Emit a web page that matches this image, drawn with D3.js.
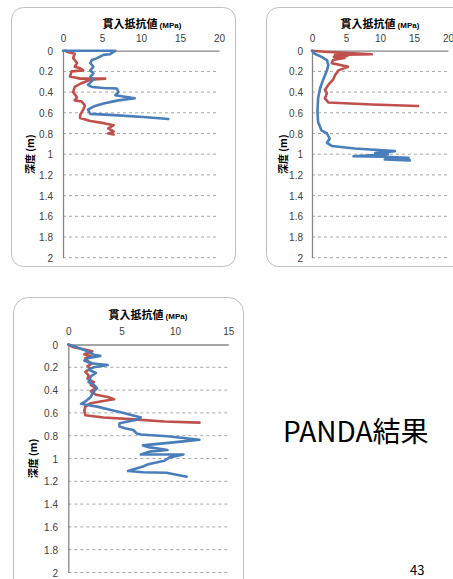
<!DOCTYPE html>
<html><head><meta charset="utf-8">
<script src="https://cdn.jsdelivr.net/npm/d3@7"></script>
<style>body{margin:0;background:#fff}svg{display:block}</style>
</head><body>
<svg id="c" width="453" height="579"></svg>
<script>
// ---- data ----
const xTicks20 = [0, 5, 10, 15, 20];
const xTicks15 = [0, 5, 10, 15];
const depthTicks = [0, 0.2, 0.4, 0.6, 0.8, 1, 1.2, 1.4, 1.6, 1.8, 2];
const xTitle = "貫入抵抗値";
const xUnit = "(MPa)";
const yTitle = "深度 (m)";

const c1BlueMPa   = [0, 6.7, 6.0, 5.2, 4.3, 3.7, 3.5, 3.9, 3.5, 3.9, 3.5, 3.9, 3.2, 3.7, 5.2, 6.9, 7.1, 6.7, 9.2, 7.1, 5.2, 3.9, 3.2, 3.5, 6.0, 10.3, 13.5];
const c1BlueDepth = [0, 0, 0.035, 0.04, 0.074, 0.09, 0.12, 0.155, 0.19, 0.22, 0.25, 0.28, 0.33, 0.35, 0.36, 0.365, 0.40, 0.43, 0.46, 0.48, 0.51, 0.54, 0.57, 0.61, 0.62, 0.64, 0.66];
const c1RedMPa    = [0.3, 0.5, 1.5, 1.3, 1.8, 1.5, 2.2, 2.6, 1.1, 0.9, 2.2, 5.4, 3.5, 2.2, 1.5, 1.3, 1.8, 1.5, 2.4, 2.8, 2.6, 2.2, 2.2, 3.5, 5.2, 6.5, 5.8, 6.5, 5.8, 6.5];
const c1RedDepth  = [0, 0.01, 0.03, 0.07, 0.12, 0.155, 0.17, 0.19, 0.2, 0.25, 0.27, 0.27, 0.28, 0.32, 0.35, 0.40, 0.45, 0.48, 0.49, 0.53, 0.57, 0.62, 0.65, 0.68, 0.70, 0.72, 0.75, 0.78, 0.80, 0.81];

const c2BlueMPa   = [0, 0.4, 1.4, 2.2, 2.4, 2.2, 1.7, 1.2, 0.9, 0.8, 0.9, 1.4, 2.2, 2.6, 2.2, 2.9, 6.3, 12.2, 9.3, 11.2, 6.1, 10.7, 14.2, 10.7, 14.4];
const c2BlueDepth = [0, 0.03, 0.06, 0.09, 0.14, 0.19, 0.27, 0.36, 0.46, 0.59, 0.69, 0.77, 0.80, 0.85, 0.89, 0.92, 0.945, 0.97, 0.99, 1.0, 1.02, 1.025, 1.035, 1.05, 1.06];
const c2RedMPa    = [0, 1.9, 8.8, 3.4, 5.2, 3.2, 4.8, 3.1, 2.9, 5.3, 3.9, 3.4, 3.1, 2.4, 1.9, 2.2, 1.9, 2.4, 8.8, 15.6];
const c2RedDepth  = [0, 0.01, 0.035, 0.04, 0.05, 0.06, 0.07, 0.09, 0.12, 0.155, 0.19, 0.235, 0.28, 0.33, 0.38, 0.41, 0.46, 0.50, 0.52, 0.535];

const c3BlueMPa   = [0, 0.84, 1.8, 2.4, 3.0, 1.8, 1.5, 2.1, 3.7, 2.4, 1.9, 2.6, 2.1, 1.9, 2.4, 2.7, 2.4, 2.1, 1.6, 1.2, 1.8, 2.7, 4.0, 5.2, 6.8, 6.4, 4.8, 4.8, 5.3, 6.1, 6.4, 6.8, 9.3, 12.3, 10.8, 7.0, 7.5, 9.3, 7.6, 6.8, 10.8, 9.5, 9.0, 7.5, 7.0, 5.6, 7.0, 9.2, 11.1];
const c3BlueDepth = [0, 0.025, 0.06, 0.09, 0.1, 0.12, 0.14, 0.165, 0.18, 0.2, 0.22, 0.25, 0.28, 0.33, 0.355, 0.385, 0.41, 0.46, 0.50, 0.52, 0.53, 0.545, 0.575, 0.60, 0.64, 0.66, 0.69, 0.72, 0.735, 0.75, 0.78, 0.79, 0.805, 0.835, 0.85, 0.885, 0.9, 0.925, 0.94, 0.965, 0.965, 0.99, 1.02, 1.05, 1.07, 1.11, 1.12, 1.125, 1.16];
const c3RedMPa    = [0, 0.5, 1.3, 2.25, 1.5, 2.1, 1.6, 1.9, 2.25, 1.8, 2.1, 1.6, 1.9, 1.8, 2.4, 2.1, 2.6, 2.1, 2.6, 3.7, 4.3, 3.0, 2.1, 1.6, 1.5, 1.6, 3.3, 5.8, 9.0, 12.3];
const c3RedDepth  = [0, 0.025, 0.04, 0.06, 0.085, 0.10, 0.12, 0.15, 0.165, 0.19, 0.21, 0.24, 0.27, 0.30, 0.33, 0.355, 0.385, 0.41, 0.44, 0.46, 0.48, 0.50, 0.515, 0.545, 0.58, 0.62, 0.64, 0.655, 0.675, 0.685];

const caption = "PANDA結果";
const pageNo = "43";

// ---- drawing ----
const svg = d3.select("#c");
const BLUE = "#4a7ebb", RED = "#c0504d";
const numFont = "'Liberation Sans', Arial, sans-serif";
const cjkFont = "'Noto Sans CJK JP', sans-serif";

function chart(o) {
  const g = svg.append("g");
  g.append("rect").attr("x", o.box[0]).attr("y", o.box[1]).attr("width", o.box[2]).attr("height", o.box[3])
    .attr("rx", o.r).attr("ry", o.r).attr("fill", "#fff").attr("stroke", "#bfbfbf").attr("stroke-width", 1);
  const x = d3.scaleLinear().domain([0, o.xMax]).range(o.xr);
  const y = d3.scaleLinear().domain([0, 2]).range(o.yr);
  // grid
  g.selectAll(".grid").data(depthTicks.filter(d => d > 0)).join("line")
    .attr("x1", o.xr[0]).attr("x2", o.xr[1]).attr("y1", d => y(d)).attr("y2", d => y(d))
    .attr("stroke", "#a6a6a6").attr("stroke-width", 1).attr("stroke-dasharray", "3,3");
  // axes
  const xa = d3.axisTop(x).tickValues(o.xTicks).tickSize(0).tickPadding(0).tickFormat(d3.format("d"));
  const xg = g.append("g").attr("transform", `translate(0,${o.yr[0]})`).call(xa);
  xg.select(".domain").attr("stroke", "#868686").attr("stroke-width", 1.3);
  xg.selectAll("text").attr("y", o.xTickY - o.yr[0]).attr("dy", "0.35em")
    .attr("font-family", numFont).attr("font-size", 10).attr("fill", "#404040");
  const ya = d3.axisLeft(y).tickValues(depthTicks).tickSize(0).tickPadding(0).tickFormat(d => String(d));
  const yg = g.append("g").attr("transform", `translate(${o.xr[0]},0)`).call(ya);
  yg.select(".domain").attr("stroke", "#868686").attr("stroke-width", 1.3);
  yg.selectAll("text").attr("x", o.yLabX - o.xr[0]).attr("dy", "0.35em")
    .attr("font-family", numFont).attr("font-size", 10).attr("fill", "#404040");
  // titles
  const t = g.append("text").attr("x", o.titleX).attr("y", o.titleY).attr("text-anchor", "middle")
    .attr("font-weight", "bold").attr("fill", "#000");
  t.append("tspan").attr("font-family", cjkFont).attr("font-size", 11).text(xTitle);
  t.append("tspan").attr("font-family", numFont).attr("font-size", 8).attr("dx", 2).text(xUnit);
  const cy = (o.yr[0] + o.yr[1]) / 2;
  g.append("text").attr("transform", `translate(${o.yTitleX},${cy}) rotate(-90)`).attr("text-anchor", "middle")
    .attr("dy", "0.35em").attr("font-family", cjkFont).attr("font-weight", "bold").attr("font-size", 10)
    .attr("fill", "#000").text(yTitle);
  // lines
  const line = d3.line().x(d => x(d[0])).y(d => y(d[1]));
  o.series.forEach(s => {
    const pts = s.v.map((v, i) => [v, s.d[i]]);
    g.append("path").attr("d", line(pts)).attr("fill", "none").attr("stroke", s.c)
      .attr("stroke-width", 2.6).attr("stroke-linejoin", "round").attr("stroke-linecap", "round");
  });
}

chart({box: [11.5, 7.5, 224, 259], r: 12, xMax: 20, xTicks: xTicks20, xr: [63, 219], yr: [50.7, 257.7],
  xTickY: 38.5, yLabX: 53, titleX: 142, titleY: 28, yTitleX: 30,
  series: [{v: c1RedMPa, d: c1RedDepth, c: RED}, {v: c1BlueMPa, d: c1BlueDepth, c: BLUE}]});
chart({box: [266.5, 7.5, 230, 259], r: 12, xMax: 20, xTicks: xTicks20, xr: [312, 448], yr: [50.7, 257.7],
  xTickY: 38.5, yLabX: 303, titleX: 380, titleY: 28, yTitleX: 283,
  series: [{v: c2RedMPa, d: c2RedDepth, c: RED}, {v: c2BlueMPa, d: c2BlueDepth, c: BLUE}]});
chart({box: [13.5, 297.5, 230, 300], r: 15, xMax: 15, xTicks: xTicks15, xr: [68.3, 228.3], yr: [344.5, 572.5],
  xTickY: 331, yLabX: 58, titleX: 148, titleY: 319, yTitleX: 33,
  series: [{v: c3RedMPa, d: c3RedDepth, c: RED}, {v: c3BlueMPa, d: c3BlueDepth, c: BLUE}]});

svg.append("text").attr("x", 283).attr("y", 442).attr("font-family", cjkFont).attr("font-size", 28)
  .attr("fill", "#000").text(caption);
svg.append("text").attr("x", 410).attr("y", 575).attr("font-family", cjkFont).attr("font-size", 13)
  .attr("fill", "#000").text(pageNo);
</script>
</body></html>
